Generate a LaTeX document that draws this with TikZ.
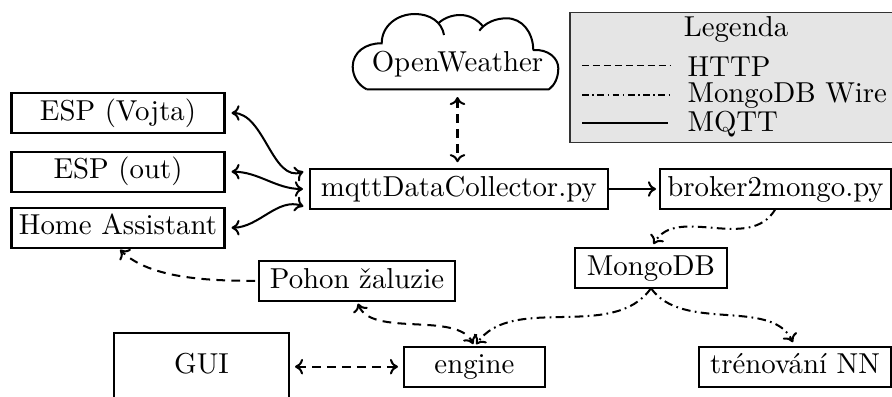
\documentclass[tikz,border=0pt]{standalone}
\usetikzlibrary{arrows.meta}
\newcommand{\pxu}{0.347pt}
\tikzset{
  >={To[length=2.8pt,width=5.4pt]},
  lw/.style={line width=0.7pt},
  box/.style={draw,lw,inner sep=0pt,outer sep=0pt,text height=6.9pt,text depth=1.9pt},
  conn/.style={lw,<->},
  arr/.style={lw,->},
  http/.style={dash pattern=on 3pt off 2.2pt},
  wire/.style={dash pattern=on 3pt off 1.5pt on 0.6pt off 1.5pt},
  legtext/.style={anchor=base west,inner sep=0pt},
  ghost/.style={inner sep=0pt,outer sep=0pt}
}
\begin{document}
\begin{tikzpicture}[x=\pxu,y=-\pxu]
\useasboundingbox (0,0) rectangle (892,396);
\clip (0,0) rectangle (892,396);
% legend
\node[draw=black!80,fill=black!10,line width=0.4pt,ghost,minimum width=340*\pxu,minimum height=130.4*\pxu] (legend) at (740,77.5) {};
\node[anchor=base,inner sep=0pt] (legt) at (736,36.5) {Legenda};
\coordinate (l1a) at (582,65.7); \coordinate (l1b) at (670,65.7);
\coordinate (l2a) at (582,95); \coordinate (l2b) at (670,95);
\coordinate (l3a) at (582,123); \coordinate (l3b) at (668,123);
\draw[line width=0.55pt,dash pattern=on 2.4pt off 1.4pt] (l1a) -- (l1b);
\draw[line width=0.55pt,dash pattern=on 2.4pt off 1.2pt on 0.5pt off 1.2pt] (l2a) -- (l2b);
\draw[lw] (l3a) -- (l3b);
\node[legtext] (lh) at (687,76.5) {HTTP};
\node[legtext] (lm) at (687,102) {MongoDB Wire};
\node[legtext] (lq) at (687,131) {MQTT};
% cloud
\draw[lw,line join=round] (366.7,89.3) -- (549,89.3)
  .. controls (555,85) and (558.3,77) .. (558.3,68.3)
  .. controls (558.3,58) and (548,49) .. (533.3,50)
  .. controls (533,32) and (522,18.3) .. (506.7,18.3)
  .. controls (495,18.3) and (485,23) .. (479.3,30.7);
\draw[lw] (483.3,26.7) .. controls (477,19) and (469,15) .. (460,15)
  .. controls (452,15) and (444,18) .. (438.3,23.3);
\draw[lw] (444,35) .. controls (442,22) and (430,14) .. (415,14)
  .. controls (397,14) and (381.7,26) .. (381.7,43.3)
  .. controls (366,43) and (352.7,52) .. (352.7,66.7)
  .. controls (352.7,76) and (358,85) .. (366.7,89.3);
\node[ghost,minimum width=182*\pxu,minimum height=16*\pxu] (ow) at (457.5,81) {};
\node[ghost] (owt) at (457.5,64.5) {OpenWeather};
% boxes
\node[box,minimum width=213*\pxu,minimum height=39.8*\pxu] (vojta) at (118,113) {ESP (Vojta)};
\node[box,minimum width=213*\pxu,minimum height=39.8*\pxu] (out) at (118,171.7) {ESP (out)};
\node[box,minimum width=213*\pxu,minimum height=39.8*\pxu] (ha) at (118,227.7) {Home Assistant};
\node[box,minimum width=297.7*\pxu,minimum height=39.6*\pxu] (mqtt) at (458.8,189) {mqttDataCollector.py};
\node[box,minimum width=231*\pxu,minimum height=39.8*\pxu] (broker) at (775.5,189) {broker2mongo.py};
\node[box,minimum width=151.7*\pxu,minimum height=39.8*\pxu] (mongo) at (651,268.3) {MongoDB};
\node[box,minimum width=191.7*\pxu,minimum height=39.8*\pxu] (nn) at (795,366.7) {trénování NN};
\node[box,minimum width=196*\pxu,minimum height=39.8*\pxu] (pohon) at (357,280.8) {Pohon žaluzie};
\node[box,minimum width=141*\pxu,minimum height=39.8*\pxu] (engine) at (474.5,366.7) {engine};
\node[box,minimum width=175*\pxu,minimum height=67.6*\pxu] (gui) at (201.5,366.7) {GUI};
% connectors
\draw[conn,http,shorten <=8*\pxu,shorten >=7*\pxu] (ow.south) -- (owt |- mqtt.north);
\draw[conn,shorten <=7*\pxu,shorten >=7*\pxu] (vojta.east) to[out=0,in=200] (mqtt.north west);
\draw[conn,shorten <=7*\pxu,shorten >=7*\pxu] (out.east) to[out=0,in=180] (mqtt.west);
\draw[conn,shorten <=7*\pxu,shorten >=7*\pxu] (ha.east) to[out=0,in=160] (mqtt.south west);
\draw[arr,shorten >=4*\pxu] (mqtt.east) -- (broker.west);
\draw[arr,http,shorten <=4*\pxu,shorten >=3*\pxu] (pohon.west) to[out=180,in=-45,looseness=0.8] (ha.south);
\draw[conn,http,shorten <=3*\pxu,shorten >=3*\pxu] (pohon.south) to[out=-70,in=115,looseness=0.8] (engine.north);
\draw[conn,http,shorten <=6*\pxu,shorten >=6*\pxu] (gui.east) -- (engine.west);
\draw[arr,wire,shorten >=5*\pxu] (broker.south) to[out=-120,in=60] (mongo.north);
\draw[arr,wire,shorten >=3*\pxu] (mongo.south) to[out=-125,in=55,looseness=0.9] (engine.north);
\draw[arr,wire,shorten >=5*\pxu] (mongo.south) to[out=-55,in=115,looseness=0.9] (nn.north);
\end{tikzpicture}
\end{document}
